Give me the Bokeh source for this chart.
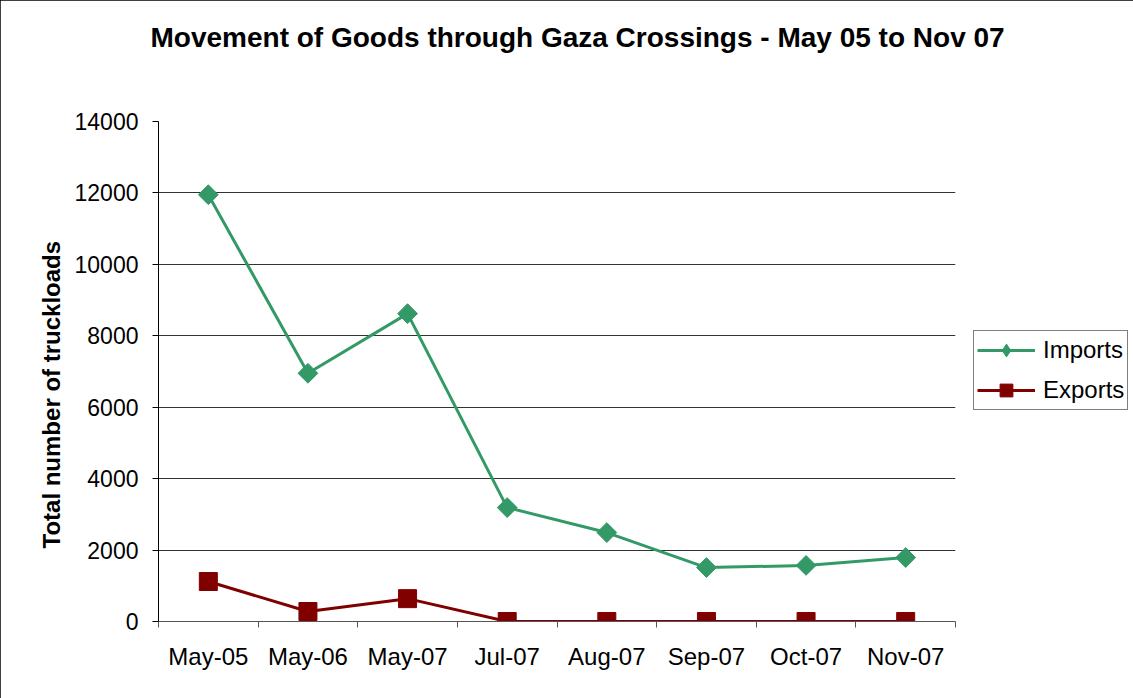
import numpy as np
from bokeh.plotting import figure
from bokeh.models import (ColumnDataSource, FixedTicker, Legend, LegendItem, Title)
from bokeh.embed import file_html
from bokeh.resources import INLINE

categories = ["May-05", "May-06", "May-07", "Jul-07", "Aug-07", "Sep-07", "Oct-07", "Nov-07"]
imports = [11950, 6950, 8620, 3190, 2490, 1510, 1570, 1790]
exports = [1120, 280, 640, 0, 0, 0, 0, 0]
y_ticks = [0, 2000, 4000, 6000, 8000, 10000, 12000, 14000]

GREEN = "#339966"
RED = "#800000"
FONT = "Liberation Sans"

xpos = [i + 0.5 for i in range(len(categories))]
src = ColumnDataSource(dict(x=xpos, imp=imports, exp=exports))

p = figure(frame_width=797, frame_height=500, output_backend="svg", toolbar_location=None,
           x_range=(0, len(categories)), y_range=(0, 14000),
           min_border_left=158, min_border_right=178, min_border_top=121, min_border_bottom=77)
p.outline_line_color = None
p.background_fill_color = "white"
p.border_fill_color = "white"
p.styles = {"outline": "1px solid #000000", "outline-offset": "-1px"}

# chart title (outermost above panel) + spacer panel between it and the frame
p.title = Title(text="Movement of Goods through Gaza Crossings - May 05 to Nov 07",
                text_font=FONT, text_font_size="28px", text_font_style="bold",
                align="left", vertical_align="top", offset=-8, standoff=0,
                text_color="black")
p.add_layout(Title(text=" ", text_font_size="1px", standoff=64), "above")

# grids
p.xgrid.grid_line_color = None
p.ygrid.grid_line_color = "#333333"
p.ygrid.grid_line_width = 1
p.ygrid.ticker = FixedTicker(ticks=y_ticks)

# y axis
p.yaxis.ticker = FixedTicker(ticks=y_ticks)
p.yaxis.axis_line_color = "black"
p.yaxis.major_tick_line_color = "black"
p.yaxis.major_tick_out = 6
p.yaxis.major_tick_in = 0
p.yaxis.minor_tick_line_color = None
p.yaxis.major_label_text_font = FONT
p.yaxis.major_label_text_font_size = "23px"
p.yaxis.major_label_text_color = "black"
p.yaxis.major_label_standoff = 14

# y axis title, shifted downward like the reference
p.add_layout(Title(text="Total number of truckloads", text_font=FONT,
                   text_font_size="24px", text_font_style="bold", text_color="black",
                   align="left", offset=73, standoff=13), "left")

# x axis: labels at category centres, ticks at category boundaries
p.xaxis.ticker = FixedTicker(ticks=xpos, minor_ticks=list(range(len(categories) + 1)))
p.xaxis.major_label_overrides = {x: c for x, c in zip(xpos, categories)}
p.xaxis.major_tick_out = 0
p.xaxis.major_tick_in = 0
p.xaxis.minor_tick_out = 6
p.xaxis.minor_tick_in = 0
p.xaxis.minor_tick_line_color = "#555555"
p.xaxis.axis_line_color = "#555555"
p.xaxis.major_label_text_font = FONT
p.xaxis.major_label_text_font_size = "24px"
p.xaxis.major_label_text_color = "black"
p.xaxis.major_label_standoff = 15

# series
l1 = p.line("x", "imp", source=src, line_color=GREEN, line_width=3)
m1 = p.scatter("x", "imp", source=src, marker="square", size=14, angle=np.pi / 4,
               fill_color=GREEN, line_color=GREEN)
l2 = p.line("x", "exp", source=src, line_color=RED, line_width=3)
m2 = p.scatter("x", "exp", source=src, marker="square", size=18,
               fill_color=RED, line_color=RED)
# legend-only proxy for the diamond symbol (a single NaN point, never drawn in the plot)
proxy = p.scatter(x=[np.nan], y=[np.nan], marker="diamond", size=14,
                  fill_color=GREEN, line_color=GREEN)

legend = Legend(items=[LegendItem(label="Imports", renderers=[l1, proxy]),
                       LegendItem(label="Exports", renderers=[l2, m2])],
                location=(18, 211), border_line_color="black", border_line_width=1,
                label_text_font=FONT, label_text_font_size="24px", label_text_color="black",
                glyph_width=58, glyph_height=32, spacing=8, padding=3, margin=0,
                label_standoff=8, background_fill_alpha=1.0)
p.add_layout(legend, "right")

open("out.html", "w").write(file_html(p, INLINE))
